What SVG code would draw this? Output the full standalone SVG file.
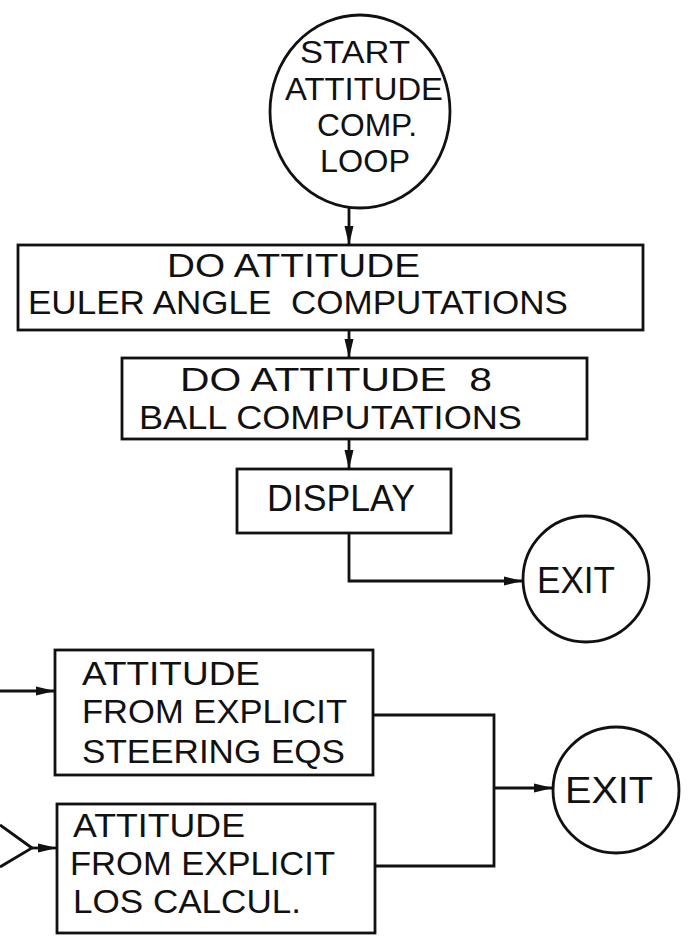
<svg xmlns="http://www.w3.org/2000/svg" width="691" height="942" viewBox="0 0 691 942">
<style>
.n{fill:none;stroke:#111;stroke-width:2.8}
.c{fill:none;stroke:#111;stroke-width:2.8}
.t{font-family:"Liberation Sans",Arial,sans-serif;font-size:33px;fill:#111}
.b{font-size:36px}
.m{font-size:32px}
</style>
<defs>
<marker id="ah" markerWidth="20" markerHeight="12" refX="19" refY="6" orient="auto" markerUnits="userSpaceOnUse"><path d="M0,1.5 L19,6 L0,10.5 z" fill="#111"/></marker>
</defs>
<rect width="691" height="942" fill="#fff"/>
<g id="start">
<ellipse class="n" cx="360" cy="111.5" rx="90" ry="96.5"/>
<text class="t m" x="300" y="63" textLength="110" lengthAdjust="spacingAndGlyphs">START</text>
<text class="t m" x="285" y="100" textLength="158" lengthAdjust="spacingAndGlyphs">ATTITUDE</text>
<text class="t m" x="317" y="136" textLength="100" lengthAdjust="spacingAndGlyphs">COMP.</text>
<text class="t m" x="320" y="172" textLength="90" lengthAdjust="spacingAndGlyphs">LOOP</text>
</g>
<g id="euler">
<rect class="n" x="18" y="245" width="625" height="85"/>
<text class="t" x="167" y="277" textLength="253" lengthAdjust="spacingAndGlyphs">DO ATTITUDE</text>
<text class="t" x="28" y="314" textLength="540" lengthAdjust="spacingAndGlyphs" xml:space="preserve">EULER ANGLE  COMPUTATIONS</text>
</g>
<g id="ball">
<rect class="n" x="122" y="358" width="465" height="81"/>
<text class="t" x="180" y="391" textLength="312" lengthAdjust="spacingAndGlyphs" xml:space="preserve">DO ATTITUDE  8</text>
<text class="t" x="139" y="429" textLength="383" lengthAdjust="spacingAndGlyphs">BALL COMPUTATIONS</text>
</g>
<g id="display">
<rect class="n" x="237" y="469" width="214" height="64"/>
<text class="t b" x="267" y="511" textLength="148" lengthAdjust="spacingAndGlyphs">DISPLAY</text>
</g>
<g id="exit1">
<circle class="n" cx="586" cy="579" r="63"/>
<text class="t b" x="537" y="593" textLength="78" lengthAdjust="spacingAndGlyphs">EXIT</text>
</g>
<g id="steering">
<rect class="n" x="55" y="650" width="318" height="125"/>
<text class="t" x="82" y="685" textLength="178" lengthAdjust="spacingAndGlyphs">ATTITUDE</text>
<text class="t" x="82" y="723" textLength="265" lengthAdjust="spacingAndGlyphs">FROM EXPLICIT</text>
<text class="t" x="82" y="763" textLength="263" lengthAdjust="spacingAndGlyphs">STEERING EQS</text>
</g>
<g id="los">
<rect class="n" x="57" y="804" width="318" height="129"/>
<text class="t" x="73" y="837" textLength="172" lengthAdjust="spacingAndGlyphs">ATTITUDE</text>
<text class="t" x="70" y="875" textLength="265" lengthAdjust="spacingAndGlyphs">FROM EXPLICIT</text>
<text class="t" x="73" y="913" textLength="228" lengthAdjust="spacingAndGlyphs">LOS CALCUL.</text>
</g>
<g id="exit2">
<circle class="n" cx="616" cy="790" r="63"/>
<text class="t b" x="565" y="803" textLength="88" lengthAdjust="spacingAndGlyphs">EXIT</text>
</g>
<g id="connectors">
<path class="c" d="M349,208 V245" marker-end="url(#ah)"/>
<path class="c" d="M349,330 V358" marker-end="url(#ah)"/>
<path class="c" d="M349,439 V469" marker-end="url(#ah)"/>
<path class="c" d="M349,533 V581 H523" marker-end="url(#ah)"/>
<path class="c" d="M0,691 H55" marker-end="url(#ah)"/>
<path class="c" d="M0,825 L32,848 L0,867"/>
<path class="c" d="M32,848 H57" marker-end="url(#ah)"/>
<path class="c" d="M373,715 H494 V866 H375"/>
<path class="c" d="M494,788 H553" marker-end="url(#ah)"/>
</g>
</svg>
